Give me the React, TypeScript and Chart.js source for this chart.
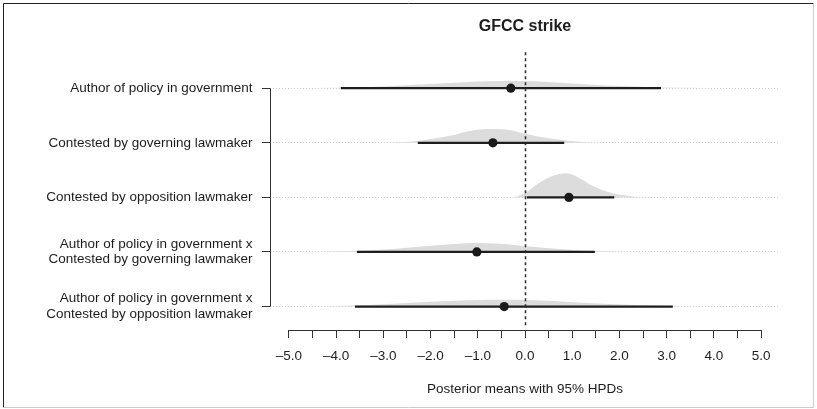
import React, { useEffect, useRef } from "react";
import { Chart, registerables } from "chart.js";

Chart.register(...registerables);

// ---------- data ----------
const categories: (string | string[])[] = [
  "Author of policy in government",
  "Contested by governing lawmaker",
  "Contested by opposition lawmaker",
  ["Author of policy in government x", "Contested by governing lawmaker"],
  ["Author of policy in government x", "Contested by opposition lawmaker"],
];
const rowPos = [1, 2, 3, 4, 5];
const means = [-0.3, -0.68, 0.93, -1.02, -0.44];
const hpdLow = [-3.9, -2.27, 0.04, -3.56, -3.6];
const hpdHigh = [2.88, 0.83, 1.89, 1.48, 3.13];

const xTicks = [-5, -4.5, -4, -3.5, -3, -2.5, -2, -1.5, -1, -0.5, 0, 0.5, 1, 1.5, 2, 2.5, 3, 3.5, 4, 4.5, 5];
const xTickLabels = ["–5.0", "", "–4.0", "", "–3.0", "", "–2.0", "", "–1.0", "", "0.0", "", "1.0", "", "2.0", "", "3.0", "", "4.0", "", "5.0"];

// posterior density outlines (x, height in row units)
const densityX1 = [-5.0, -4.0, -3.0, -2.0, -1.0, -0.3, 0.3, 1.0, 1.5, 2.0, 2.9, 3.8, 4.6];
const densityH1 = [0, 0.009, 0.033, 0.079, 0.125, 0.132, 0.125, 0.088, 0.06, 0.04, 0.015, 0.004, 0];
const densityX2 = [-3.2, -2.6, -2.2, -1.9, -1.5, -1.2, -0.9, -0.6, -0.3, 0.0, 0.5, 0.9, 1.3, 2.0];
const densityH2 = [0, 0.013, 0.04, 0.082, 0.143, 0.211, 0.247, 0.253, 0.229, 0.165, 0.082, 0.037, 0.011, 0];
const densityX3 = [-0.5, -0.17, 0.04, 0.25, 0.53, 0.89, 1.16, 1.44, 1.74, 2.1, 2.4, 2.7];
const densityH3 = [0, 0.018, 0.101, 0.238, 0.375, 0.44, 0.348, 0.207, 0.104, 0.037, 0.009, 0];
const densityX4 = [-4.6, -3.6, -2.8, -2.07, -1.5, -1.02, -0.5, 0.04, 0.74, 1.44, 2.2, 3.0];
const densityH4 = [0, 0.018, 0.055, 0.11, 0.147, 0.165, 0.152, 0.104, 0.055, 0.018, 0.005, 0];
const densityX5 = [-4.6, -3.6, -2.8, -2.0, -1.2, -0.5, 0.2, 0.8, 1.44, 2.2, 2.9, 3.8, 4.6];
const densityH5 = [0, 0.018, 0.049, 0.088, 0.117, 0.125, 0.117, 0.092, 0.06, 0.033, 0.016, 0.004, 0];

const densityXs = [densityX1, densityX2, densityX3, densityX4, densityX5];
const densityHs = [densityH1, densityH2, densityH3, densityH4, densityH5];

const FONT = "'Liberation Sans', Arial, Helvetica, sans-serif";
const INK = "#1c1c1c";

const rAxesPlugin = {
  id: "rAxes",
  beforeDraw(chart: any) {
    const ctx = chart.ctx;
    ctx.save();
    ctx.fillStyle = "#ffffff";
    ctx.fillRect(0, 0, chart.width, chart.height);
    ctx.restore();
  },
  afterDatasetsDraw(chart: any) {
    const { ctx, chartArea, scales } = chart;
    const x = scales.x;
    const y = scales.y;
    ctx.save();
    // zero reference line
    ctx.strokeStyle = "#2a2a2a";
    ctx.lineWidth = 1.5;
    ctx.setLineDash([3, 3]);
    const x0 = Math.round(x.getPixelForValue(0)) + 0.5;
    ctx.beginPath();
    ctx.moveTo(x0, chartArea.top);
    ctx.lineTo(x0, chartArea.bottom - 3);
    ctx.stroke();
    ctx.setLineDash([]);
    // y axis line (only between first and last tick)
    ctx.lineWidth = 1;
    ctx.strokeStyle = "#333333";
    const ax = Math.round(chartArea.left) + 0.5;
    ctx.beginPath();
    ctx.moveTo(ax, y.getPixelForValue(rowPos[0]));
    ctx.lineTo(ax, y.getPixelForValue(rowPos[rowPos.length - 1]));
    ctx.stroke();
    // x axis line (only between first and last tick)
    const ay = Math.round(chartArea.bottom) + 0.5;
    ctx.beginPath();
    ctx.moveTo(x.getPixelForValue(xTicks[0]), ay);
    ctx.lineTo(x.getPixelForValue(xTicks[xTicks.length - 1]), ay);
    ctx.stroke();
    ctx.restore();
  },
  afterDraw(chart: any) {
    const ctx = chart.ctx;
    ctx.save();
    ctx.lineWidth = 1;
    ctx.strokeStyle = "#222222";
    ctx.beginPath();
    ctx.moveTo(3.5, chart.height - 1.5);
    ctx.lineTo(3.5, 3.5);
    ctx.lineTo(chart.width - 3.5, 3.5);
    ctx.stroke();
    ctx.strokeStyle = "#cccccc";
    ctx.beginPath();
    ctx.moveTo(chart.width - 3.5, 3.5);
    ctx.lineTo(chart.width - 3.5, chart.height - 1.5);
    ctx.lineTo(3.5, chart.height - 1.5);
    ctx.stroke();
    ctx.restore();
  },
};

export default function App() {
  const canvasRef = useRef<HTMLCanvasElement | null>(null);

  useEffect(() => {
    const canvas = canvasRef.current;
    if (!canvas) return;

    const densitySets = rowPos.map((row, i) => ({
      type: "line" as const,
      data: densityXs[i].map((xv, j) => ({ x: xv, y: row - densityHs[i][j] })),
      borderWidth: 0,
      borderColor: "rgba(0,0,0,0)",
      backgroundColor: "#dcdcdc",
      pointRadius: 0,
      cubicInterpolationMode: "monotone" as const,
      fill: { value: row },
      order: 3,
    }));

    const hpdSets = rowPos.map((row, i) => ({
      type: "line" as const,
      data: [
        { x: hpdLow[i], y: row },
        { x: hpdHigh[i], y: row },
      ],
      borderWidth: 2.3,
      borderColor: "#1e1e1e",
      pointRadius: 0,
      fill: false,
      order: 2,
    }));

    const meanSet = {
      type: "line" as const,
      data: rowPos.map((row, i) => ({ x: means[i], y: row })),
      showLine: false,
      pointRadius: 4.6,
      pointBorderWidth: 0,
      pointBackgroundColor: "#1a1a1a",
      pointBorderColor: "#1a1a1a",
      fill: false,
      order: 1,
    };

    const chart = new Chart(canvas, {
      type: "line",
      data: { datasets: [meanSet, ...hpdSets, ...densitySets] as any },
      plugins: [rAxesPlugin],
      options: {
        animation: false,
        responsive: false,
        events: [],
        layout: { padding: { left: 0, right: 37, top: 0, bottom: 0 } },
        plugins: {
          legend: { display: false },
          tooltip: { enabled: false },
          title: {
            display: true,
            text: "GFCC strike",
            fullSize: false,
            color: INK,
            font: { family: FONT, size: 16, weight: "bold", lineHeight: 1.2 },
            padding: { top: 17, bottom: 16 },
          },
        },
        scales: {
          x: {
            type: "linear",
            min: -5.4,
            max: 5.4,
            afterBuildTicks: (scale: any) => {
              scale.ticks = xTicks.map((v) => ({ value: v }));
            },
            afterFit: (scale: any) => {
              scale.height = 79;
            },
            ticks: {
              autoSkip: false,
              maxRotation: 0,
              padding: 10,
              color: INK,
              font: { family: FONT, size: 13.5 },
              callback: (_v: any, idx: number) => xTickLabels[idx],
            },
            grid: {
              drawOnChartArea: false,
              drawTicks: true,
              tickLength: 8,
              tickColor: "#333333",
              tickWidth: 1,
            },
            border: { display: false },
            title: {
              display: true,
              text: "Posterior means with 95% HPDs",
              color: INK,
              font: { family: FONT, size: 13.5, lineHeight: 1.2 },
              padding: { top: 16, bottom: 12 },
            },
          },
          y: {
            type: "linear",
            reverse: true,
            min: 0.34,
            max: 5.43,
            afterBuildTicks: (scale: any) => {
              scale.ticks = rowPos.map((v) => ({ value: v }));
            },
            afterFit: (scale: any) => {
              scale.width = 270;
            },
            ticks: {
              autoSkip: false,
              padding: 9.5,
              color: INK,
              font: { family: FONT, size: 13.5, lineHeight: 1.15 },
              callback: (_v: any, idx: number) => categories[idx] as any,
            },
            grid: {
              drawOnChartArea: true,
              drawTicks: true,
              tickLength: 8,
              color: "#d0d0d0",
              lineWidth: 1,
              tickColor: "#333333",
              tickWidth: 1,
              tickBorderDash: [],
            },
            border: { display: false, dash: [1, 2] },
          },
        },
      } as any,
    });

    return () => {
      chart.destroy();
    };
  }, []);

  return (
    <div style={{ position: "absolute", left: 0, top: 0, width: 817, height: 409 }}>
      <canvas ref={canvasRef} width={817} height={409} style={{ width: 817, height: 409, display: "block" }} />
    </div>
  );
}
